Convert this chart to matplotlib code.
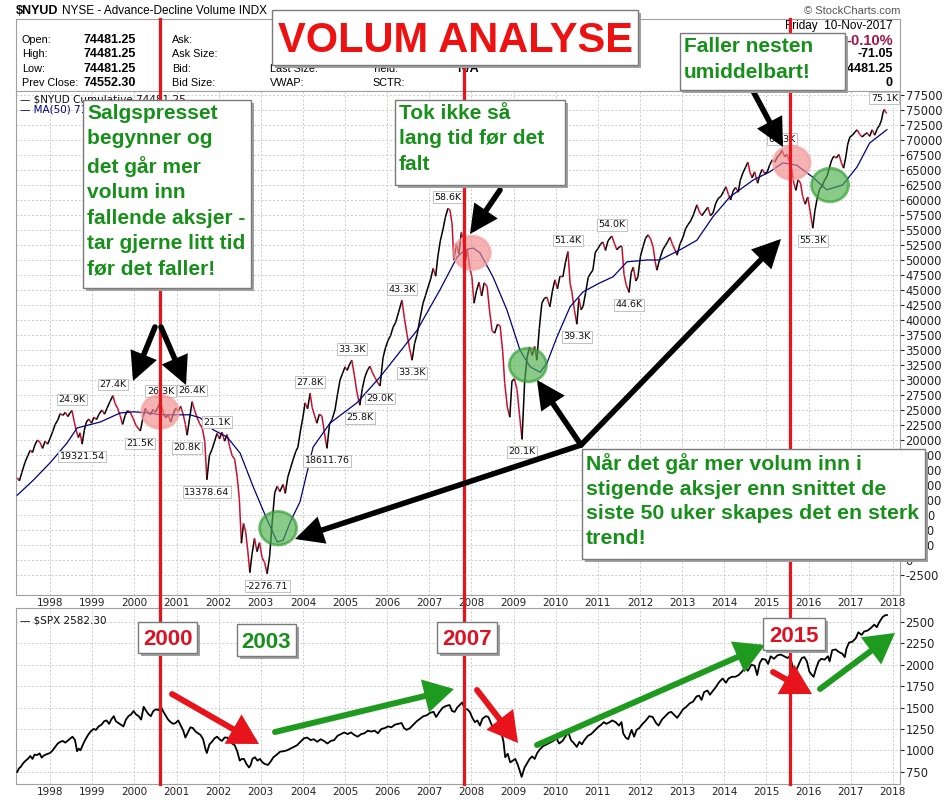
import matplotlib
matplotlib.use("Agg")
import matplotlib.pyplot as plt
import matplotlib.transforms as mtransforms
from matplotlib.patches import Rectangle, Ellipse, FancyArrowPatch, ArrowStyle
from matplotlib.lines import Line2D
from matplotlib.collections import LineCollection

plt.rcParams["axes.unicode_minus"] = False

W, H = 950, 800

# ---- data ------------------------------------------------------------------
nyud_dates = [
    1997.22, 1997.27, 1997.33, 1997.40, 1997.47, 1997.53, 1997.58, 1997.64, 1997.70, 1997.76,
    1997.82, 1997.88, 1997.94, 1998.00, 1998.06, 1998.12, 1998.18, 1998.24, 1998.30, 1998.36,
    1998.42, 1998.47, 1998.52, 1998.57, 1998.62, 1998.67, 1998.71, 1998.76, 1998.81, 1998.86,
    1998.92, 1998.98, 1999.04, 1999.10, 1999.16, 1999.23, 1999.29, 1999.35, 1999.42, 1999.49,
    1999.54, 1999.60, 1999.66, 1999.72, 1999.78, 1999.84, 1999.91, 1999.97, 2000.04, 2000.14,
    2000.20, 2000.26, 2000.32, 2000.38, 2000.44, 2000.50, 2000.56, 2000.62, 2000.68, 2000.74,
    2000.80, 2000.86, 2000.92, 2000.98, 2001.04, 2001.10, 2001.16, 2001.21, 2001.25, 2001.31,
    2001.37, 2001.43, 2001.49, 2001.55, 2001.61, 2001.67, 2001.72, 2001.78, 2001.84, 2001.90,
    2001.96, 2002.02, 2002.08, 2002.14, 2002.20, 2002.26, 2002.32, 2002.38, 2002.44, 2002.49,
    2002.54, 2002.59, 2002.64, 2002.69, 2002.74, 2002.79, 2002.85, 2002.91, 2002.97, 2003.03,
    2003.09, 2003.15, 2003.21, 2003.27, 2003.33, 2003.39, 2003.45, 2003.53, 2003.58, 2003.64,
    2003.70, 2003.77, 2003.83, 2003.88, 2003.94, 2004.00, 2004.05, 2004.11, 2004.17, 2004.22,
    2004.28, 2004.33, 2004.39, 2004.45, 2004.51, 2004.57, 2004.63, 2004.69, 2004.76, 2004.82,
    2004.88, 2004.94, 2005.00, 2005.05, 2005.10, 2005.16, 2005.22, 2005.28, 2005.35, 2005.41,
    2005.47, 2005.53, 2005.59, 2005.65, 2005.71, 2005.78, 2005.83, 2005.90, 2005.96, 2006.02,
    2006.08, 2006.14, 2006.20, 2006.27, 2006.35, 2006.41, 2006.47, 2006.53, 2006.59, 2006.65,
    2006.71, 2006.78, 2006.85, 2006.91, 2006.97, 2007.03, 2007.09, 2007.15, 2007.20, 2007.26,
    2007.32, 2007.38, 2007.44, 2007.49, 2007.54, 2007.58, 2007.64, 2007.70, 2007.76, 2007.80,
    2007.85, 2007.90, 2007.96, 2008.01, 2008.06, 2008.12, 2008.18, 2008.24, 2008.30, 2008.37,
    2008.43, 2008.49, 2008.55, 2008.62, 2008.68, 2008.74, 2008.79, 2008.85, 2008.91, 2008.96,
    2009.02, 2009.08, 2009.14, 2009.20, 2009.26, 2009.32, 2009.38, 2009.44, 2009.50, 2009.55,
    2009.61, 2009.67, 2009.73, 2009.79, 2009.86, 2009.92, 2009.98, 2010.04, 2010.10, 2010.17,
    2010.23, 2010.29, 2010.34, 2010.38, 2010.44, 2010.50, 2010.55, 2010.60, 2010.65, 2010.71,
    2010.77, 2010.83, 2010.88, 2010.94, 2011.00, 2011.06, 2011.12, 2011.18, 2011.24, 2011.33,
    2011.39, 2011.45, 2011.51, 2011.57, 2011.62, 2011.67, 2011.74, 2011.79, 2011.84, 2011.90,
    2011.95, 2012.01, 2012.07, 2012.13, 2012.19, 2012.25, 2012.31, 2012.36, 2012.40, 2012.47,
    2012.54, 2012.60, 2012.66, 2012.71, 2012.77, 2012.83, 2012.88, 2012.95, 2013.02, 2013.08,
    2013.14, 2013.20, 2013.27, 2013.35, 2013.41, 2013.47, 2013.54, 2013.61, 2013.67, 2013.73,
    2013.80, 2013.86, 2013.92, 2013.98, 2014.04, 2014.10, 2014.15, 2014.21, 2014.27, 2014.33,
    2014.38, 2014.44, 2014.50, 2014.56, 2014.61, 2014.66, 2014.72, 2014.79, 2014.85, 2014.90,
    2014.96, 2015.02, 2015.08, 2015.14, 2015.20, 2015.26, 2015.32, 2015.37, 2015.43, 2015.49,
    2015.55, 2015.60, 2015.65, 2015.70, 2015.75, 2015.81, 2015.86, 2015.92, 2015.98, 2016.04,
    2016.10, 2016.15, 2016.20, 2016.26, 2016.32, 2016.38, 2016.44, 2016.50, 2016.55, 2016.60,
    2016.66, 2016.72, 2016.78, 2016.83, 2016.88, 2016.93, 2016.98, 2017.04, 2017.10, 2017.15,
    2017.21, 2017.27, 2017.33, 2017.39, 2017.45, 2017.51, 2017.57, 2017.63, 2017.68, 2017.73,
    2017.77, 2017.80, 2017.83, 2017.86,
]
nyud_values = [
    13700, 13200, 14600, 16200, 17400, 18300, 17900, 19200, 20000, 19600,
    18600, 19800, 19300, 20300, 21400, 22600, 23300, 24400, 24100, 24600,
    23900, 24500, 24900, 23100, 21600, 20400, 21200, 19322, 21600, 23000,
    23500, 22800, 23800, 23400, 24300, 25000, 24300, 25300, 26400, 27400,
    26100, 25300, 24100, 22600, 24100, 24900, 24500, 23600, 22400, 21500,
    23600, 25300, 24600, 24200, 25100, 24600, 25500, 26300, 24700, 23700,
    24200, 23000, 24300, 25300, 24800, 25600, 24200, 22600, 20800, 23600,
    26400, 24900, 23700, 22700, 22000, 19800, 13379, 17400, 18400, 19700,
    21100, 20200, 21300, 19800, 20900, 18900, 17400, 16800, 13800, 10200,
    2800, 6100, 4700, 1600, -2100, 900, 3600, 1400, 2900, 400,
    -400, -2277, 700, 6300, 11200, 12300, 11400, 12600, 11100, 13800,
    15200, 16800, 18100, 18800, 21500, 23800, 26200, 25200, 27800, 25400,
    24000, 22800, 24300, 24000, 21200, 18612, 22600, 23400, 25000, 27600,
    30000, 31100, 32200, 31600, 32500, 33300, 30800, 28000, 25800, 28600,
    30500, 31600, 32300, 31200, 30400, 29500, 29000, 33700, 35400, 36600,
    37400, 38800, 39600, 41300, 43300, 40200, 37600, 35300, 33300, 36100,
    37600, 40300, 42800, 44100, 45500, 46800, 48600, 47300, 50500, 53200,
    55000, 57100, 58600, 58300, 56000, 50000, 52700, 51000, 54600, 53500,
    49500, 51800, 48600, 47200, 42800, 44900, 46300, 44000, 46200, 45600,
    41500, 38200, 37800, 39300, 39000, 34800, 29400, 25500, 23800, 29800,
    30200, 28400, 24200, 20100, 29500, 33800, 35500, 34100, 35600, 33300,
    38600, 42800, 43600, 43800, 42200, 44800, 46700, 45200, 47300, 47200,
    49600, 51400, 46100, 44800, 41800, 39300, 43600, 41700, 42300, 44600,
    47100, 47800, 48300, 51300, 51900, 52600, 53000, 51600, 53200, 54000,
    52800, 51700, 52200, 52300, 47600, 45900, 44600, 47900, 48800, 46500,
    47200, 50600, 52200, 53600, 54200, 53500, 52200, 49700, 48300, 50200,
    51700, 52400, 53100, 53800, 52600, 51700, 50800, 52700, 53800, 55200,
    55900, 56500, 57600, 59200, 58000, 57400, 58100, 58800, 57400, 57800,
    59500, 60300, 60600, 61400, 62200, 60900, 60000, 61500, 62100, 61300,
    63300, 64500, 65400, 66300, 64600, 63700, 64700, 62800, 64300, 65100,
    64400, 64700, 65900, 66700, 66300, 67200, 67600, 68300, 67200, 67600,
    66300, 65200, 62800, 61600, 63400, 62800, 60600, 59300, 60500, 58000,
    55300, 58200, 60100, 61800, 62300, 63300, 64000, 65500, 66700, 67300,
    67000, 67600, 66200, 65300, 67000, 69300, 70500, 70800, 71300, 71700,
    71000, 70500, 70900, 71200, 70600, 71700, 70800, 71900, 72400, 73300,
    74700, 75100, 74600, 74481,
]

ma_dates = [
    1997.22, 1997.60, 1998.00, 1998.40, 1998.64, 1999.19, 1999.66, 1999.97, 2000.37, 2000.61,
    2000.92, 2001.32, 2001.56, 2001.87, 2002.20, 2002.51, 2002.82, 2003.15, 2003.39, 2003.53,
    2003.69, 2003.93, 2004.24, 2004.64, 2005.28, 2005.83, 2006.47, 2006.71, 2007.25, 2007.66,
    2007.85, 2008.04, 2008.20, 2008.51, 2008.84, 2009.15, 2009.39, 2009.63, 2009.79, 2010.03,
    2010.34, 2010.65, 2011.05, 2011.36, 2011.69, 2012.16, 2012.47, 2012.95, 2013.35, 2013.73,
    2014.13, 2014.68, 2015.08, 2015.39, 2015.72, 2016.10, 2016.43, 2016.81, 2017.15, 2017.45,
    2017.86,
]
ma_values = [
    10800, 13300, 16200, 19500, 22000, 23000, 24500, 24700, 24500, 24200,
    24200, 24200, 23700, 21700, 20500, 17800, 12200, 6700, 3000, 3300,
    6200, 9700, 18800, 22800, 26200, 30500, 36200, 38300, 45000, 50500,
    51700, 52000, 51200, 47200, 41700, 35000, 32200, 31300, 32800, 37200,
    42200, 44700, 46200, 47200, 49700, 50000, 50000, 51700, 53300, 57200,
    60500, 63300, 64700, 66200, 65800, 63800, 61700, 62500, 65500, 69500,
    71730,
]

spx_dates = [
    1997.22, 1997.26, 1997.30, 1997.36, 1997.42, 1997.48, 1997.53, 1997.58, 1997.63, 1997.69,
    1997.75, 1997.80, 1997.85, 1997.92, 1998.00, 1998.06, 1998.12, 1998.18, 1998.24, 1998.30,
    1998.36, 1998.42, 1998.48, 1998.53, 1998.59, 1998.64, 1998.68, 1998.72, 1998.78, 1998.84,
    1998.90, 1998.96, 1999.03, 1999.09, 1999.15, 1999.22, 1999.28, 1999.34, 1999.40, 1999.45,
    1999.51, 1999.56, 1999.62, 1999.68, 1999.74, 1999.80, 1999.86, 1999.92, 1999.98, 2000.04,
    2000.10, 2000.16, 2000.22, 2000.28, 2000.34, 2000.39, 2000.45, 2000.51, 2000.57, 2000.63,
    2000.69, 2000.75, 2000.80, 2000.86, 2000.92, 2000.98, 2001.04, 2001.10, 2001.16, 2001.21,
    2001.27, 2001.33, 2001.39, 2001.45, 2001.51, 2001.57, 2001.63, 2001.69, 2001.72, 2001.78,
    2001.84, 2001.90, 2001.96, 2002.02, 2002.08, 2002.14, 2002.20, 2002.26, 2002.32, 2002.38,
    2002.44, 2002.50, 2002.55, 2002.60, 2002.66, 2002.72, 2002.76, 2002.80, 2002.86, 2002.92,
    2002.98, 2003.04, 2003.10, 2003.17, 2003.22, 2003.30, 2003.38, 2003.46, 2003.54, 2003.62,
    2003.70, 2003.78, 2003.86, 2003.94, 2004.02, 2004.10, 2004.18, 2004.26, 2004.34, 2004.42,
    2004.50, 2004.58, 2004.66, 2004.74, 2004.82, 2004.90, 2004.98, 2005.06, 2005.14, 2005.22,
    2005.30, 2005.38, 2005.46, 2005.54, 2005.62, 2005.70, 2005.78, 2005.86, 2005.94, 2006.02,
    2006.10, 2006.18, 2006.26, 2006.34, 2006.40, 2006.46, 2006.54, 2006.62, 2006.70, 2006.78,
    2006.86, 2006.94, 2007.02, 2007.10, 2007.16, 2007.24, 2007.32, 2007.40, 2007.48, 2007.54,
    2007.60, 2007.66, 2007.72, 2007.78, 2007.84, 2007.90, 2007.96, 2008.02, 2008.08, 2008.14,
    2008.20, 2008.26, 2008.34, 2008.40, 2008.46, 2008.52, 2008.58, 2008.64, 2008.70, 2008.76,
    2008.80, 2008.86, 2008.92, 2008.98, 2009.04, 2009.10, 2009.16, 2009.19, 2009.26, 2009.32,
    2009.38, 2009.44, 2009.50, 2009.56, 2009.62, 2009.70, 2009.78, 2009.86, 2009.94, 2010.02,
    2010.08, 2010.16, 2010.24, 2010.30, 2010.36, 2010.42, 2010.50, 2010.56, 2010.62, 2010.68,
    2010.76, 2010.84, 2010.92, 2011.00, 2011.08, 2011.14, 2011.20, 2011.28, 2011.34, 2011.42,
    2011.50, 2011.56, 2011.60, 2011.66, 2011.72, 2011.80, 2011.86, 2011.92, 2011.98, 2012.06,
    2012.14, 2012.22, 2012.30, 2012.38, 2012.44, 2012.52, 2012.60, 2012.68, 2012.74, 2012.82,
    2012.88, 2012.94, 2013.02, 2013.10, 2013.18, 2013.26, 2013.34, 2013.40, 2013.46, 2013.52,
    2013.60, 2013.66, 2013.72, 2013.80, 2013.88, 2013.96, 2014.04, 2014.10, 2014.18, 2014.26,
    2014.34, 2014.42, 2014.50, 2014.56, 2014.64, 2014.72, 2014.78, 2014.84, 2014.90, 2014.98,
    2015.04, 2015.10, 2015.18, 2015.26, 2015.34, 2015.42, 2015.50, 2015.56, 2015.62, 2015.66,
    2015.72, 2015.78, 2015.84, 2015.90, 2015.96, 2016.02, 2016.08, 2016.12, 2016.18, 2016.24,
    2016.30, 2016.38, 2016.46, 2016.50, 2016.56, 2016.64, 2016.72, 2016.80, 2016.86, 2016.90,
    2016.96, 2017.04, 2017.12, 2017.18, 2017.26, 2017.32, 2017.40, 2017.48, 2017.56, 2017.62,
    2017.68, 2017.76, 2017.82, 2017.86,
]
spx_values = [
    748, 790, 806, 850, 880, 905, 935, 900, 950, 945,
    965, 915, 940, 955, 970, 1000, 1040, 1080, 1100, 1110,
    1090, 1115, 1140, 1160, 1120, 990, 1020, 1000, 1070, 1130,
    1180, 1220, 1250, 1240, 1280, 1300, 1340, 1350, 1310, 1360,
    1400, 1340, 1320, 1300, 1280, 1360, 1400, 1420, 1460, 1420,
    1400, 1360, 1510, 1460, 1420, 1400, 1460, 1480, 1470, 1510,
    1450, 1400, 1360, 1330, 1310, 1320, 1350, 1290, 1230, 1150,
    1210, 1270, 1260, 1220, 1200, 1180, 1130, 1010, 970, 1070,
    1100, 1140, 1160, 1130, 1110, 1150, 1150, 1120, 1080, 1060,
    990, 880, 900, 900, 840, 800, 830, 900, 920, 880,
    900, 860, 840, 830, 860, 920, 950, 985, 990, 1000,
    1020, 1040, 1060, 1100, 1140, 1150, 1120, 1130, 1100, 1130,
    1110, 1080, 1110, 1120, 1170, 1190, 1210, 1190, 1210, 1180,
    1160, 1190, 1200, 1230, 1220, 1230, 1200, 1250, 1260, 1280,
    1270, 1300, 1310, 1320, 1260, 1240, 1260, 1300, 1340, 1370,
    1400, 1410, 1440, 1450, 1390, 1450, 1500, 1520, 1530, 1460,
    1450, 1500, 1530, 1560, 1480, 1480, 1450, 1380, 1330, 1350,
    1290, 1370, 1400, 1390, 1320, 1250, 1270, 1280, 1230, 1100,
    920, 960, 860, 880, 900, 830, 740, 690, 800, 850,
    900, 930, 900, 970, 1010, 1050, 1070, 1090, 1110, 1140,
    1080, 1110, 1170, 1210, 1120, 1090, 1040, 1100, 1070, 1120,
    1170, 1190, 1230, 1270, 1300, 1330, 1310, 1330, 1350, 1330,
    1290, 1330, 1200, 1150, 1130, 1240, 1160, 1240, 1260, 1310,
    1350, 1400, 1390, 1320, 1290, 1360, 1400, 1440, 1450, 1410,
    1380, 1420, 1480, 1510, 1550, 1570, 1630, 1640, 1590, 1680,
    1700, 1650, 1690, 1740, 1800, 1840, 1790, 1840, 1860, 1860,
    1880, 1920, 1970, 1930, 2000, 1990, 1880, 2020, 2070, 2060,
    2010, 2100, 2070, 2110, 2120, 2100, 2080, 2100, 1980, 1920,
    1950, 2020, 2080, 2090, 2040, 1920, 1880, 1860, 1960, 2040,
    2070, 2060, 2100, 2040, 2170, 2180, 2150, 2130, 2090, 2190,
    2260, 2270, 2310, 2380, 2350, 2390, 2400, 2430, 2470, 2440,
    2500, 2560, 2580, 2582,
]

years = list(range(1998, 2019))
nyud_ticks = list(range(-2500, 77501, 2500))
spx_ticks = list(range(750, 2501, 250))

# labelled peaks / troughs on the $NYUD line
label_texts = ["24.9K", "27.4K", "19321.54", "21.5K", "26.3K", "26.4K", "20.8K", "21.1K",
               "13378.64", "-2276.71", "27.8K", "18611.76", "33.3K", "25.8K", "29.0K",
               "43.3K", "33.3K", "58.6K", "20.1K", "51.4K", "39.3K", "54.0K", "44.6K",
               "68.3K", "55.3K", "75.1K"]
label_dates = [1998.52, 1999.49, 1998.76, 2000.14, 2000.62, 2001.37, 2001.25, 2001.96,
               2001.72, 2003.15, 2004.17, 2004.57, 2005.16, 2005.35, 2005.83,
               2006.35, 2006.59, 2007.44, 2009.20, 2010.29, 2010.50, 2011.33, 2011.74,
               2015.37, 2016.10, 2017.80]
label_values = [24900, 27400, 19322, 21500, 26300, 26400, 20800, 21100,
                13379, -2277, 27800, 18612, 33300, 25800, 29000,
                43300, 33300, 58600, 20100, 51400, 39300, 54000, 44600,
                68300, 55300, 75100]
label_above = [True, True, False, False, True, True, False, True,
               False, False, True, False, True, False, False,
               True, False, True, False, True, False, True, False,
               True, False, True]

# highlighted spots (red = selling pressure, green = strong trend)
circle_dates = [2000.61, 2008.01, 2015.60, 2003.41, 2009.34, 2016.51]
circle_values = [24700, 51200, 66200, 5300, 32500, 62500]
circle_kinds = ["red", "red", "red", "green", "green", "green"]

marker_years = [2000.61, 2007.82, 2015.56]

RED = "#e8141c"
GREEN = "#17901a"
PRICE_RED = "#c8102e"
SANS = "Liberation Sans"


def fx(x):
    return x / W


def fy(y):
    return 1 - y / H


fig = plt.figure(figsize=(9.5, 8), dpi=100)
left, width = fx(16), (900 - 16) / W
ax_head = fig.add_axes([left, fy(91), width, (91 - 19) / H])
ax = fig.add_axes([left, fy(595), width, (595 - 91) / H])
ax2 = fig.add_axes([left, fy(784), width, (784 - 608) / H])

for a in (ax_head, ax, ax2):
    for s in a.spines.values():
        s.set_color("#a0a0a0")
        s.set_linewidth(0.8)
ax_head.set_xticks([])
ax_head.set_yticks([])

# ---- top panel: cumulative advance-decline volume ---------------------------
pts = list(zip(nyud_dates, nyud_values))
segs = [[pts[i], pts[i + 1]] for i in range(len(pts) - 1)]
cols = [PRICE_RED if nyud_values[i + 1] < nyud_values[i] else "black" for i in range(len(pts) - 1)]
ax.add_collection(LineCollection(segs, colors=cols, linewidths=1.1, zorder=3))
ax.plot(ma_dates, ma_values, color="#000080", lw=0.9, zorder=3)

ax.set_xlim(1997.19, 2018.17)
ax.set_ylim(-5833, 78167)
ax.set_xticks(years)
ax.set_xticklabels([str(y) for y in years])
ax.set_yticks(nyud_ticks)
ax.yaxis.tick_right()
ax.tick_params(axis="x", length=0, pad=2, labelsize=7.5, colors="#222222")
ax.tick_params(axis="y", length=3, pad=1, labelsize=8.3, colors="#222222")
ax.grid(True, color="#cccccc", linestyle=(0, (2, 2)), lw=0.7)
ax.set_axisbelow(True)

for t, d, v, up in zip(label_texts, label_dates, label_values, label_above):
    ax.annotate(t, (d, v), xytext=(0, 8 if up else -9), textcoords="offset points",
                ha="center", va="center", fontsize=6.8, color="#111111", zorder=4,
                bbox=dict(boxstyle="square,pad=0.15", fc="white", ec="#b8b8b8", lw=0.6))

for d, v, k in zip(circle_dates, circle_values, circle_kinds):
    fc = "#f08a8a" if k == "red" else "#4caf4c"
    ec = "#f2a0a0" if k == "red" else "#2e9e2e"
    ax.add_patch(Ellipse((d, v), 0.88, 5600, facecolor=fc, edgecolor=ec, lw=2,
                         alpha=0.65, zorder=5))

fig.text(fx(20), fy(99), "\u2014 $NYUD Cumulative 74481.25", fontsize=7.5, color="#111111",
         va="center", zorder=2)
fig.text(fx(20), fy(110), "\u2014 MA(50) 71730.39", fontsize=7.5, color="#000080",
         va="center", zorder=2)

# ---- bottom panel: S&P 500 -------------------------------------------------
ax2.plot(spx_dates, spx_values, color="black", lw=1.3, zorder=3)
ax2.set_xlim(1997.19, 2018.17)
ax2.set_ylim(607, 2664)
ax2.set_xticks(years)
ax2.set_xticklabels([str(y) for y in years])
ax2.set_yticks(spx_ticks)
ax2.yaxis.tick_right()
ax2.tick_params(axis="x", length=0, pad=2, labelsize=7.5, colors="#222222")
ax2.tick_params(axis="y", length=3, pad=1, labelsize=8.3, colors="#222222")
ax2.grid(True, color="#cccccc", linestyle=(0, (2, 2)), lw=0.7)
ax2.set_axisbelow(True)
ax2.text(0.005, 0.93, "\u2014 $SPX 2582.30", transform=ax2.transAxes, fontsize=7.5,
         color="#111111", va="center")

# ---- header -----------------------------------------------------------------
fig.text(fx(16), fy(11), "$NYUD", fontsize=9, fontweight="bold", va="center", family=SANS)
fig.text(fx(62), fy(11), "NYSE - Advance-Decline Volume INDX", fontsize=8.5, va="center",
         family=SANS)
fig.text(fx(900), fy(11), "\u00a9 StockCharts.com", fontsize=8, va="center", ha="right",
         color="#555555", family=SANS)

rows = [40, 54, 69, 83]
col1 = ["Open:", "High:", "Low:", "Prev Close:"]
col1v = ["74481.25", "74481.25", "74481.25", "74552.30"]
col2 = ["Ask:", "Ask Size:", "Bid:", "Bid Size:"]
for y, a, b, c in zip(rows, col1, col1v, col2):
    fig.text(fx(22), fy(y), a, fontsize=7.8, va="center", family=SANS)
    fig.text(fx(83), fy(y), b, fontsize=9, va="center", fontweight="bold", family=SANS)
    fig.text(fx(172), fy(y), c, fontsize=7.8, va="center", family=SANS)
for y, c, d in zip(rows[2:], ["Last Size:", "VWAP:"], ["Yield:", "SCTR:"]):
    fig.text(fx(270), fy(y), c, fontsize=7.8, va="center", family=SANS)
    fig.text(fx(372), fy(y), d, fontsize=7.8, va="center", family=SANS)
fig.text(fx(457), fy(69), "N/A", fontsize=9, va="center", fontweight="bold", family=SANS)
fig.text(fx(893), fy(26), "Friday  10-Nov-2017", fontsize=8.5, va="center", ha="right",
         family=SANS)
fig.text(fx(893), fy(41), "-0.10%", fontsize=10.5, va="center", ha="right",
         fontweight="bold", color="#a0144a", family=SANS)
for y, v in zip(rows[1:], ["-71.05", "74481.25", "0"]):
    fig.text(fx(893), fy(y), v, fontsize=9, va="center", ha="right", fontweight="bold",
             family=SANS)

# ---- red marker lines through both panels ------------------------------------
trans = mtransforms.blended_transform_factory(ax.transData, fig.transFigure)
for yr in marker_years:
    fig.add_artist(Line2D([yr, yr], [fy(19), fy(784)], transform=trans, color=RED,
                          lw=2.3, zorder=5))


# ---- arrows -------------------------------------------------------------------
def arrow(x0, y0, x1, y1, color, lw, hl, hw):
    style = ArrowStyle("-|>", head_length=hl, head_width=hw)
    fig.add_artist(FancyArrowPatch((fx(x0), fy(y0)), (fx(x1), fy(y1)),
                                   transform=fig.transFigure, arrowstyle=style,
                                   color=color, lw=lw, shrinkA=0, shrinkB=0,
                                   mutation_scale=1, joinstyle="miter", zorder=6))


black_arrows = [(155, 327, 133, 381), (161, 327, 186, 385), (500, 190, 470, 234),
                (752, 89, 783, 147), (581, 445, 295, 539), (581, 445, 537, 380),
                (581, 445, 781, 239)]
for a in black_arrows:
    arrow(*a, "black", 4.0, 14, 7)

red_arrows = [(172, 694, 259, 744), (477, 690, 518, 743), (773, 672, 812, 694)]
green_arrows = [(275, 732, 454, 689), (537, 745, 765, 645), (820, 689, 895, 633)]
for a in red_arrows:
    arrow(*a, RED, 4.3, 15, 8.5)
for a in green_arrows:
    arrow(*a, "#1e9a1e", 4.3, 15, 8.5)


# ---- annotation boxes ----------------------------------------------------------
def box(x0, y0, x1, y1):
    w, h = (x1 - x0) / W, (y1 - y0) / H
    fig.add_artist(Rectangle((fx(x0 + 3), fy(y1 + 3)), w, h, transform=fig.transFigure,
                             facecolor="#a0a0a0", edgecolor="none", zorder=8))
    fig.add_artist(Rectangle((fx(x0), fy(y1)), w, h, transform=fig.transFigure,
                             facecolor="white", edgecolor="#7a7a7a", lw=1, zorder=9))


def note(x0, y0, x1, y1, text, size, ls):
    box(x0, y0, x1, y1)
    fig.text(fx(x0 + 4), fy(y0 + 4), text, color=GREEN, fontsize=size, fontweight="bold",
             family=SANS, ha="left", va="top", linespacing=ls, zorder=10)


def tag(x0, y0, x1, y1, text, color, size, base):
    box(x0, y0, x1, y1)
    fig.text(fx((x0 + x1) / 2), fy(base), text, color=color, fontsize=size,
             fontweight="bold", family=SANS, ha="center", va="baseline", zorder=10)


tag(272, 10, 638, 65, "VOLUM ANALYSE", "#ee1111", 30, 52)
note(83, 100, 251, 288, "Salgspresset\nbegynner og\ndet går mer\nvolum inn\n"
     "fallende aksjer -\ntar gjerne litt tid\nfør det faller!", 15, 1.43)
note(395, 100, 565, 185, "Tok ikke så\nlang tid før det\nfalt", 15, 1.43)
note(680, 33, 845, 90, "Faller nesten\numiddelbart!", 15, 1.48)
note(582, 449, 925, 559, "Når det går mer volum inn i\nstigende aksjer enn snittet de\n"
     "siste 50 uker skapes det en sterk\ntrend!", 15.3, 1.37)
tag(138, 622, 197, 653, "2000", "#dd1122", 16, 645)
tag(237, 624, 296, 656, "2003", GREEN, 16, 648)
tag(437, 622, 497, 653, "2007", "#dd1122", 16, 645)
tag(763, 618, 825, 650, "2015", "#dd1122", 16, 642)

fig.savefig("out.png", dpi=100)
